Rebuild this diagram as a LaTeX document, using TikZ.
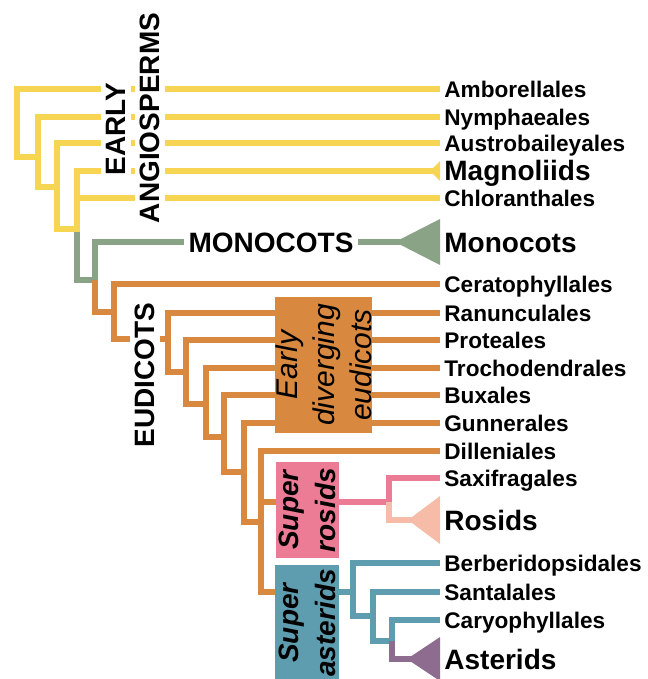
\documentclass[tikz,border=0pt]{standalone}
\usepackage{fontspec}
\setmainfont{Liberation Sans}
\definecolor{yel}{HTML}{F6D552}
\definecolor{grn}{HTML}{8AA386}
\definecolor{org}{HTML}{D8883F}
\definecolor{pnk}{HTML}{EC7B96}
\definecolor{pch}{HTML}{F7BCA7}
\definecolor{blu}{HTML}{5E9CB0}
\definecolor{pur}{HTML}{8E6C90}
\begin{document}
\begin{tikzpicture}[x=0.5pt,y=-0.5pt,
  br/.style={line width=3.4pt},
  leaf/.style={anchor=west,inner xsep=2pt,inner ysep=0pt,text height=8.1pt,text depth=0pt,
    font=\bfseries\fontsize{11.3}{13}\selectfont},
  big/.style={leaf,text height=10pt,font=\bfseries\fontsize{14}{16}\selectfont},
  grp/.style={fill=white,inner sep=2.5pt,font=\bfseries\fontsize{14}{16}\selectfont},
  clade/.style={rotate=90,align=center,inner sep=0pt,font=\bfseries\itshape\fontsize{14}{18.5}\selectfont}]
  \useasboundingbox (0,0) rectangle (647,679);
  % tips
  \node[leaf](amb) at (440,89) {Amborellales};
  \node[leaf](nym) at (440,117) {Nymphaeales};
  \node[leaf](aus) at (440,143) {Austrobaileyales};
  \node[big](mag) at (440,171) {Magnoliids};
  \node[leaf](chl) at (440,198) {Chloranthales};
  \node[big](mon) at (440,242) {Monocots};
  \node[leaf](cer) at (440,284) {Ceratophyllales};
  \node[leaf](ran) at (440,313) {Ranunculales};
  \node[leaf](pro) at (440,340) {Proteales};
  \node[leaf](tro) at (440,368) {Trochodendrales};
  \node[leaf](bux) at (440,395) {Buxales};
  \node[leaf](gun) at (440,423) {Gunnerales};
  \node[leaf](dil) at (440,451) {Dilleniales};
  \node[leaf](sax) at (440,478) {Saxifragales};
  \node[big](ros) at (440,520) {Rosids};
  \node[leaf](ber) at (440,563) {Berberidopsidales};
  \node[leaf](san) at (440,592) {Santalales};
  \node[leaf](car) at (440,620) {Caryophyllales};
  \node[big](ast) at (440,659) {Asterids};
  % clade boxes (rotated: north is the left side)
  \node[clade,fill=pnk,minimum width=48pt,minimum height=31.5pt](srbox) at (307.5,510) {Super\\rosids};
  \node[clade,fill=blu,minimum width=58pt,minimum height=32pt](sabox) at (307,623) {Super\\asterids};
  % inner nodes
  \coordinate(A) at (17,123);
  \coordinate(B) at (38,157);
  \coordinate(C) at (57,187);
  \coordinate(D) at (77,229);
  \coordinate(E) at (95,280);
  \coordinate(F) at (114,312);
  \coordinate(G) at (168,339);
  \coordinate(H) at (186,372);
  \coordinate(I) at (206,404);
  \coordinate(J) at (224,437);
  \coordinate(K) at (244,472);
  \coordinate(L) at (261,522);
  \coordinate(SR) at (389,502);
  \coordinate(SA) at (353,592);
  \coordinate(M) at (373,616);
  \coordinate(N) at (392,641);
  % branches
  \draw[br,grn] (D) |- (E) |- (mon.west);
  \draw[br,yel] (A) |- (amb.west);
  \draw[br,yel] (A) |- (B) |- (nym.west);
  \draw[br,yel] (B) |- (C) |- (aus.west);
  \draw[br,yel] (C) |- (D) |- (mag.west);
  \draw[br,yel] (D) |- (chl.west);
  \draw[br,org] (E) |- (F) |- (cer.west);
  \draw[br,org] (F) |- (G) |- (ran.west);
  \draw[br,org] (G) |- (H) |- (pro.west);
  \draw[br,org] (H) |- (I) |- (tro.west);
  \draw[br,org] (I) |- (J) |- (bux.west);
  \draw[br,org] (J) |- (K) |- (gun.west);
  \draw[br,org] (K) |- (L) |- (dil.west);
  \draw[br,org] (L) |- (srbox.north |- SR);
  \draw[br,org] (L) |- (sabox.north |- SA);
  \draw[br,pnk] (srbox.south |- SR) -- (SR) |- (sax.west);
  \draw[br,pch] (SR) |- (ros.west);
  \draw[br,blu] (sabox.south |- SA) -- (SA) |- (ber.west);
  \draw[br,blu] (SA) |- (M) |- (san.west);
  \draw[br,blu] (M) |- (N) |- (car.west);
  \draw[br,pur] (N) |- (ast.west);
  % collapsed clades
  \fill[yel] (mag.west) ++(-10,0) -- ++(10,-10) -- ++(0,20) -- cycle;
  \fill[grn] (mon.west) ++(-45,0) -- ++(45,-23) -- ++(0,46) -- cycle;
  \fill[pch] (ros.west) ++(-32,0) -- ++(32,-24) -- ++(0,48) -- cycle;
  \fill[pur] (ast.west) ++(-33,0) -- ++(33,-22) -- ++(0,44) -- cycle;
  % group labels
  \node[clade,fill=org,minimum width=68pt,minimum height=48.5pt,font=\itshape\fontsize{15}{18.5}\selectfont](edbox) at (323.5,365) {Early\\diverging\\eudicots};
  \node[grp,rotate=90](early) at (116,129) {EARLY};
  \node[grp,rotate=90](angio) at (150,118) {ANGIOSPERMS};
  \node[grp](monolab) at (271,243) {MONOCOTS};
  \node[grp,rotate=90](eudi) at (145,375) {EUDICOTS};
\end{tikzpicture}
\end{document}
